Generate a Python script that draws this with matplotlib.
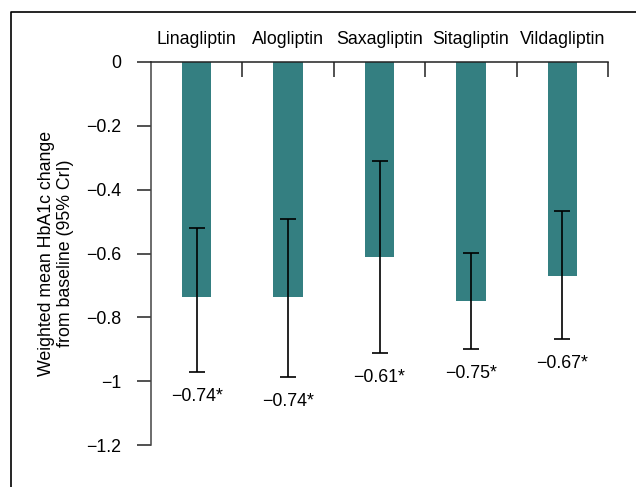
import matplotlib.pyplot as plt
import numpy as np
from matplotlib.lines import Line2D

plt.rcParams['font.family'] = ['Liberation Sans', 'DejaVu Sans']
plt.rcParams['font.size'] = 12.8

# weighted mean HbA1c change and 95% CrI
drugs = ["Linagliptin", "Alogliptin", "Saxagliptin", "Sitagliptin", "Vildagliptin"]
mean_change = [-0.737, -0.737, -0.610, -0.750, -0.670]
cri_low = [-0.971, -0.988, -0.911, -0.899, -0.868]
cri_high = [-0.519, -0.491, -0.310, -0.599, -0.467]
value_labels = ["\u22120.74*", "\u22120.74*", "\u22120.61*", "\u22120.75*", "\u22120.67*"]
ytick_vals = [0, -0.2, -0.4, -0.6, -0.8, -1.0, -1.2]
ytick_labels = ["0", "\u22120.2", "\u22120.4", "\u22120.6", "\u22120.8", "\u22121", "\u22121.2"]

W, H = 636, 487
fig = plt.figure(figsize=(W / 100, H / 100), dpi=100)
ax = fig.add_axes([151 / W, 1 - 445 / H, (608 - 151) / W, (445 - 62) / H])

x = np.arange(1, len(drugs) + 1)
mean_arr = np.array(mean_change)
err = np.vstack([mean_arr - np.array(cri_low), np.array(cri_high) - mean_arr])

ax.bar(x, mean_arr, width=0.32, color="#347f81", zorder=2)
ax.errorbar(x, mean_arr, yerr=err, fmt="none", ecolor="black", elinewidth=1.2,
            capsize=5.5, capthick=1.2, zorder=3)

for xi, lo, lab in zip(x, cri_low, value_labels):
    ax.annotate(lab, (xi, lo), xytext=(0, -17.5), textcoords="offset points",
                ha="center", va="center")

ax.set_xlim(0.5, 5.5)
ax.set_ylim(-1.2, 0)

# spines
for s in ["right", "bottom"]:
    ax.spines[s].set_visible(False)
ax.spines["left"].set_color("#444444")
ax.spines["left"].set_linewidth(1.1)
ax.spines["top"].set_color("#222222")
ax.spines["top"].set_linewidth(1.1)

ax.set_yticks(ytick_vals)
ax.set_yticklabels(ytick_labels)
ax.tick_params(axis="y", direction="out", length=10, width=1.1, color="#222222", pad=11.5)

# top axis: boundary ticks pointing down, drug names centred over bars
ax.xaxis.tick_top()
ax.set_xticks(np.arange(1.5, 6, 1.0))
ax.set_xticklabels([])
ax.tick_params(axis="x", which="major", direction="in", length=11, width=1.1, color="#222222")
ax.set_xticks(x, minor=True)
ax.set_xticklabels(drugs, minor=True)
ax.tick_params(axis="x", which="minor", length=0, pad=10)

ax.set_ylabel("Weighted mean HbA1c change\nfrom baseline (95% CrI)", linespacing=1.2,
              va="center")
ax.yaxis.set_label_coords((56 - 151) / (608 - 151), 0.5)

# figure frame (cut off at right and bottom)
fig.add_artist(Line2D([11 / W, 11 / W, 1.0], [0.0, 1 - 12 / H, 1 - 12 / H],
                      transform=fig.transFigure, color="black", lw=1.2))

fig.savefig("out.png", dpi=100)
